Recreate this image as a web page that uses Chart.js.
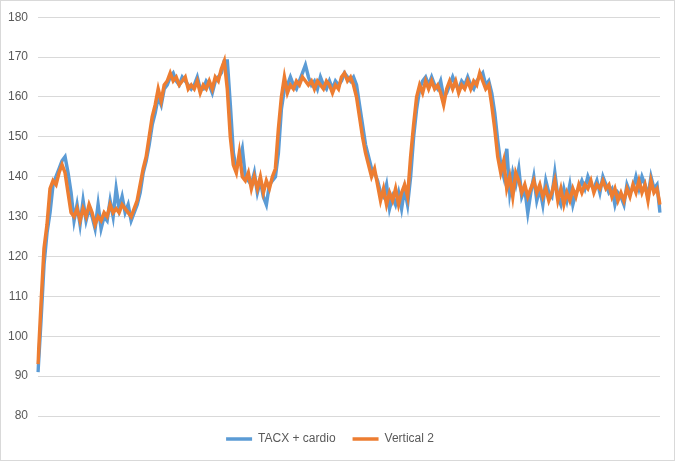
<!DOCTYPE html>
<html>
<head>
<meta charset="utf-8">
<script src="https://cdn.jsdelivr.net/npm/chart.js@4.4.1/dist/chart.umd.min.js"></script>
<style>
html,body{margin:0;padding:0;background:#fff;}
#wrap{width:675px;height:461px;position:relative;}
</style>
</head>
<body>
<div id="wrap"><canvas id="c" width="675" height="461"></canvas></div>
<script>
const seriesNames = ["TACX + cardio", "Vertical 2"];
const yTicks = [80, 90, 100, 110, 120, 130, 140, 150, 160, 170, 180];

const tacx = [
91,104,118,126,131,138,140,142,144,145,141,136,129,133,128,134,129,132,130,127,
133,127,130,129,134,130,137,132,135,131,133,129,131,133,136,141,144,148,153,156,
160,158,162,163,165,166,164,163,165,164,163,162,163,165,162,162,164,163,161,164,
165,166,169,169,158,146,142,144,147,140,139,138,141,136,139,135,133,138,139,140,
146,157,162,163,165,163,162,164,166,168,165,163,164,162,165,163,162,164,162,164,
163,164,166,165,164,165,163,158,153,148,145,142,141,139,136,135,138,132,135,133,
136,132,137,133,140,150,157,162,164,165,163,165,163,162,164,160,161,163,165,163,
162,164,163,165,163,162,164,165,166,163,164,161,156,149,143,140,147,136,141,138,
142,135,137,131,136,140,134,137,133,139,136,135,141,135,133,137,134,138,133,136,
137,139,137,140,138,137,139,136,140,138,136,137,133,136,135,133,138,136,137,140,
137,140,138,135,140,137,138,131
];

const vertical2 = [
93,108,122,128,137,139,138,141,143,141,136,131,130,132,129,132,130,133,131,128,
130,129,131,130,133,131,132,131,133,132,131,130,132,134,138,142,145,150,155,158,
162,159,163,164,166,164,165,163,164,165,162,163,162,164,161,163,162,164,162,165,
164,167,169,162,150,143,141,146,140,139,141,137,140,137,140,136,139,137,140,142,
152,160,165,161,163,162,164,163,165,164,163,164,162,164,163,162,164,163,161,163,
162,165,166,164,165,163,160,155,150,146,143,140,142,138,134,137,133,136,134,137,
133,136,138,135,145,153,160,163,161,164,162,164,162,163,161,158,162,164,162,164,
161,163,162,164,162,164,163,166,164,162,163,158,152,145,141,144,137,140,135,141,
139,136,138,135,137,139,136,138,135,137,134,136,139,134,137,133,136,134,137,135,
138,136,138,137,139,136,138,137,139,137,138,135,137,134,136,134,137,135,138,136,
139,136,138,134,139,136,137,133
];

const labels = tacx.map((_, i) => i + 1);

const frame = {
  id: 'frame',
  beforeDraw(chart) {
    const ctx = chart.ctx;
    ctx.save();
    ctx.fillStyle = '#ffffff';
    ctx.fillRect(0, 0, chart.width, chart.height);
    ctx.restore();
  },
  afterDraw(chart) {
    const ctx = chart.ctx;
    ctx.save();
    ctx.strokeStyle = '#d9d9d9';
    ctx.lineWidth = 1;
    ctx.strokeRect(0.5, 0.5, chart.width - 1, chart.height - 1);
    ctx.restore();
  }
};

new Chart(document.getElementById('c'), {
  type: 'line',
  data: {
    labels: labels,
    datasets: [
      {
        label: seriesNames[0],
        data: tacx,
        borderColor: '#5b9bd5',
        backgroundColor: '#5b9bd5',
        borderWidth: 3.5,
        pointRadius: 0,
        tension: 0,
        order: 2
      },
      {
        label: seriesNames[1],
        data: vertical2,
        borderColor: '#ed7d31',
        backgroundColor: '#ed7d31',
        borderWidth: 3.5,
        pointRadius: 0,
        tension: 0,
        order: 1
      }
    ]
  },
  options: {
    responsive: false,
    animation: false,
    devicePixelRatio: 1,
    layout: { padding: { left: 0, right: 15, top: 14, bottom: 6 } },
    plugins: {
      tooltip: { enabled: false },
      legend: {
        position: 'bottom',
        labels: {
          usePointStyle: true,
          pointStyle: 'line',
          pointStyleWidth: 26,
          boxWidth: 26,
          boxHeight: 12,
          padding: 17,
          color: '#595959',
          font: { family: 'Liberation Sans, Arial, sans-serif', size: 12 },
          sort: (a, b) => a.datasetIndex - b.datasetIndex
        }
      }
    },
    scales: {
      x: { display: false },
      y: {
        min: 80,
        max: 180,
        afterFit(scale) { scale.width = 38; },
        afterBuildTicks(scale) { scale.ticks = yTicks.map(v => ({ value: v })); },
        border: { display: false },
        grid: { color: '#d9d9d9', lineWidth: 1, drawTicks: false },
        ticks: {
          padding: 10,
          color: '#595959',
          font: { family: 'Liberation Sans, Arial, sans-serif', size: 12 }
        }
      }
    }
  },
  plugins: [frame]
});
</script>
</body>
</html>
